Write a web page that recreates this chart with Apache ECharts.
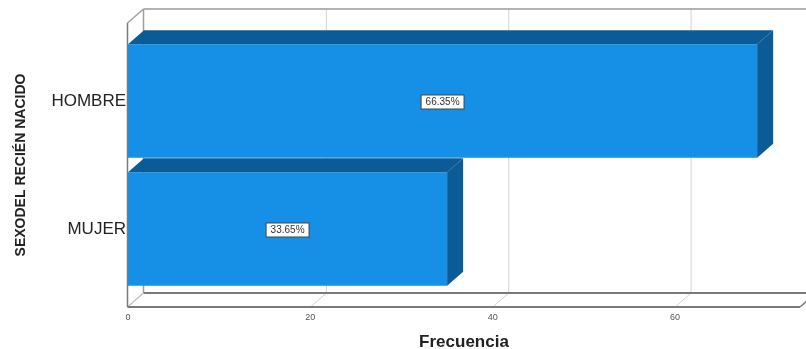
<!DOCTYPE html>
<html>
<head>
<meta charset="utf-8">
<script src="https://cdn.jsdelivr.net/npm/echarts@6/dist/echarts.min.js"></script>
<style>
  html, body { margin: 0; padding: 0; background: #ffffff; }
  #chart { width: 806px; height: 349px; }
</style>
</head>
<body>
<div id="chart"></div>
<script>
// Sex of newborns: frequency per category
const categories = ['MUJER', 'HOMBRE'];
const frequencies = [35, 69];
const xTicks = [0, 20, 40, 60];
const xMax = 73.7;
const xTitle = 'Frecuencia';
const yTitle = 'SEXODEL RECIÉN NACIDO';

const total = frequencies.reduce((a, b) => a + b, 0);
const percentText = frequencies.map(v => (v / total * 100).toFixed(2) + '%');

// depth offset of the pseudo-3D box and bars
const DX = 16, DY = 14;
const FRONT = '#1590e6';
const SHADE = '#0b5b96';
const EDGE = '#7a7a7a';
const GRID_LINE = '#d2d2d2';

const FONT = '"Liberation Sans", Arial, sans-serif';

// back wall, floor and outline of the box
function renderFrame(params, api) {
  const cs = params.coordSys;
  const left = cs.x - 0.5, right = cs.x + cs.width, top = cs.y, bottom = cs.y + cs.height;
  const line = (x1, y1, x2, y2, color, w) => ({
    type: 'line',
    shape: { x1, y1, x2, y2 },
    style: { stroke: color, lineWidth: w }
  });
  const children = [];
  xTicks.forEach(v => {
    if (v === 0) return;
    const x = api.coord([v, 0])[0];
    children.push(line(x + DX, top - DY, x + DX, bottom - DY, GRID_LINE, 1));
    children.push(line(x, bottom, x + DX, bottom - DY, GRID_LINE, 1));
  });
  children.push(line(left + DX, top - DY, right + DX + 20, top - DY, '#9a9a9a', 1.5));
  children.push(line(left + DX, top - DY, left + DX, bottom - DY, '#a0a0a0', 1.5));
  children.push(line(left + DX, bottom - DY, right + DX + 20, bottom - DY, EDGE, 1.8));
  children.push(line(left, top, left + DX, top - DY, '#a0a0a0', 1.5));
  children.push(line(left, bottom, left + DX, bottom - DY, '#bdbdbd', 1.2));
  children.push(line(left, top, left, bottom, EDGE, 1.5));
  children.push(line(left, bottom, right, bottom, EDGE, 1.8));
  children.push(line(right, bottom, right + DX, bottom - DY, EDGE, 1.5));
  return { type: 'group', children };
}

// one pseudo-3D bar with its percentage box
function renderBar(params, api) {
  const v = api.value(0), c = api.value(1);
  const p0 = api.coord([0, c]);
  const p1 = api.coord([v, c]);
  const band = api.size([0, 1])[1];
  const h = band * 0.887;
  const x0 = p0[0], x1 = p1[0];
  const top = p0[1] - h / 2, bot = p0[1] + h / 2;
  return {
    type: 'group',
    children: [
      { type: 'rect', shape: { x: x0, y: top, width: x1 - x0, height: h }, style: { fill: FRONT } },
      { type: 'polygon', shape: { points: [[x0, top], [x0 + DX, top - DY], [x1 + DX, top - DY], [x1, top]] }, style: { fill: SHADE } },
      { type: 'polygon', shape: { points: [[x1, top], [x1 + DX, top - DY], [x1 + DX, bot - DY], [x1, bot]] }, style: { fill: SHADE } },
      {
        type: 'text',
        x: (x0 + x1) / 2,
        y: p0[1] + 1,
        style: {
          text: percentText[params.dataIndex],
          fontFamily: FONT,
          fontSize: 10,
          fill: '#333',
          align: 'center',
          verticalAlign: 'middle',
          backgroundColor: '#ffffff',
          borderColor: '#444',
          borderWidth: 1,
          padding: [2, 4, 1, 4]
        }
      }
    ]
  };
}

const chart = echarts.init(document.getElementById('chart'), null, { renderer: 'canvas' });
chart.setOption({
  animation: false,
  backgroundColor: '#ffffff',
  grid: [
    { left: 128, right: 6, top: 23, bottom: 42, outerBoundsMode: 'none', containLabel: false },
    { left: 128, right: 6, top: 37, bottom: 56, outerBoundsMode: 'none', containLabel: false }
  ],
  xAxis: [
    {
      gridIndex: 0, type: 'value', min: 0, max: xMax, interval: 20,
      axisLine: { show: false }, axisTick: { show: false }, splitLine: { show: false },
      axisLabel: { showMaxLabel: false, fontFamily: FONT, fontSize: 9, color: '#555', margin: 6 },
      name: xTitle, nameLocation: 'middle', nameGap: 27,
      nameTextStyle: { fontFamily: FONT, fontSize: 17, fontWeight: 'bold', color: '#222' }
    },
    {
      gridIndex: 1, type: 'value', min: 0, max: xMax, show: false
    }
  ],
  yAxis: [
    { gridIndex: 0, type: 'value', min: 0, max: 1, show: false },
    {
      gridIndex: 1, type: 'category', data: categories,
      axisLine: { show: false }, axisTick: { show: false },
      axisLabel: { fontFamily: FONT, fontSize: 17, color: '#222', margin: 2, padding: [6, 0, 0, 0] },
      name: yTitle, nameLocation: 'middle', nameRotate: 90, nameGap: 100,
      nameTextStyle: { fontFamily: FONT, fontSize: 14, fontWeight: 'bold', color: '#222' }
    }
  ],
  series: [
    {
      type: 'custom', xAxisIndex: 0, yAxisIndex: 0, z: 1,
      renderItem: renderFrame, data: [[0, 0]], silent: true
    },
    {
      type: 'custom', xAxisIndex: 1, yAxisIndex: 1, z: 2,
      renderItem: renderBar,
      encode: { x: 0, y: 1 },
      data: categories.map((c, i) => [frequencies[i], i])
    }
  ]
});
</script>
</body>
</html>
